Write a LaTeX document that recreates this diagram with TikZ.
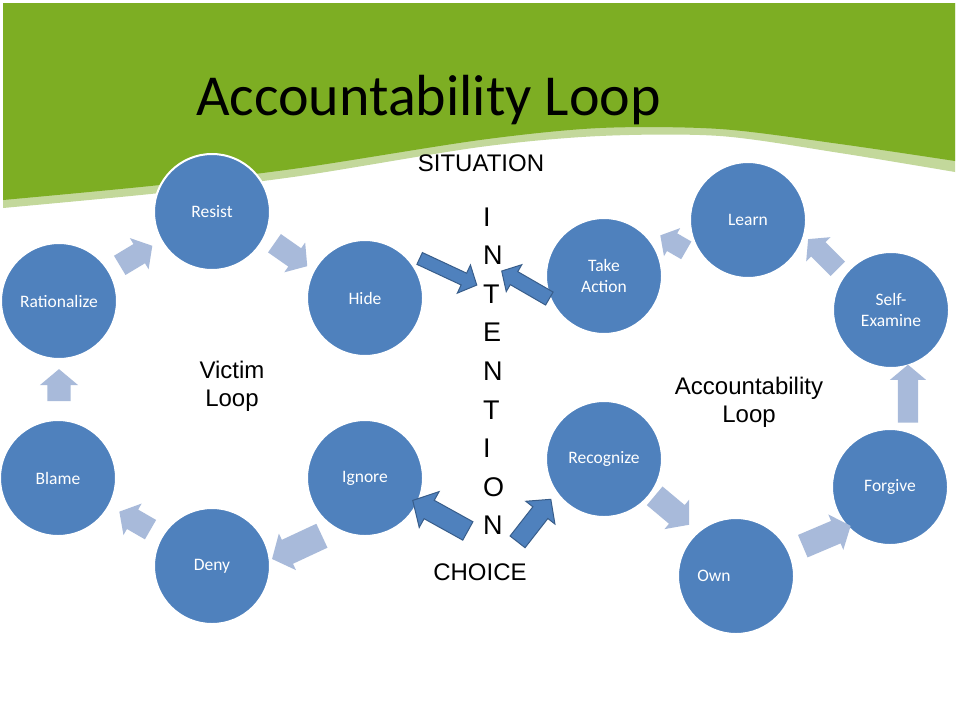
\documentclass[tikz,border=0pt]{standalone}
\usepackage{fontspec}
\setmainfont{Carlito}
\newfontfamily\arialf{Liberation Sans}
\usetikzlibrary{shapes.arrows}
\definecolor{hdrgreen}{RGB}{125,174,35}
\definecolor{bandgreen}{RGB}{195,216,155}
\definecolor{circblue}{RGB}{79,129,189}
\definecolor{lightarrow}{RGB}{168,186,218}
\definecolor{darkline}{RGB}{56,93,138}
\tikzset{
  circ/.style={circle, fill=circblue, draw=white, line width=2pt, minimum size=116pt, inner sep=0pt,
    text=white, align=center, font=\fontsize{17.5}{21}\selectfont},
  ctext/.style={text=white, inner sep=0pt, font=\fontsize{17.5}{21}\selectfont},
  lbl/.style={inner sep=0pt, align=center, font=\arialf\fontsize{24}{28}\selectfont},
  intl/.style={inner sep=0pt, anchor=base west, font=\arialf\fontsize{27}{30}\selectfont},
  larrow/.style n args={4}{single arrow, fill=lightarrow, draw=none, inner xsep=0pt,
    inner ysep={#3/2*1pt}, minimum height=#1pt, single arrow head extend={(#2-#3)/2*1pt},
    single arrow tip angle=100, rotate=#4},
  darrow/.style n args={4}{single arrow, fill=circblue, draw=darkline, line width=1pt, inner xsep=0pt,
    inner ysep={#3/2*1pt}, minimum height=#1pt, single arrow head extend={(#2-#3)/2*1pt},
    single arrow tip angle=95, rotate=#4},
}
\begin{document}
\begin{tikzpicture}[x=1pt,y=-1pt]
\useasboundingbox[fill=white] (0,0) rectangle (960,720);
% header
\fill[bandgreen] (3,3) -- plot[smooth] coordinates {(3,208) (160,193) (300,176) (480,147) (600,136) (720,136) (840,153) (955,172)} -- (955,3) -- cycle;
\fill[hdrgreen] (3,3) -- plot[smooth] coordinates {(3,200) (160,185) (300,168) (480,140) (600,128) (720,129) (840,144) (955,161)} -- (955,3) -- cycle;
\node[anchor=base west, inner sep=0pt, font=\fontsize{58}{60}\selectfont] (title) at (196,115) {Accountability Loop};

% victim loop circles
\node[circ] (resist) at (212,212) {Resist};
\node[circ] (rational) at (59,301) {Rationalize};
\node[circ] (hide) at (365,298) {Hide};
\node[circ] (blame) at (58,478) {Blame};
\node[circ] (deny) at (212,566) {Deny};
\node[circ] (ignore) at (365,478) {Ignore};
% accountability loop circles
\node[circ] (take) at (604,276) {Take\\Action};
\node[circ] (learn) at (748,220) {Learn};
\node[circ] (self) at (891,310) {Self-\\Examine};
\node[circ] (recog) at (604,459) {Recognize};
\node[circ] (own) at (736,576) {};
\node[ctext] (owntext) at ([xshift=-22pt]own.center) {Own};
\node[circ] (forgive) at (890,487) {Forgive};

% light cycle arrows
\node[larrow={32}{38}{23}{90}] (a1) at (59,390) {};
\node[larrow={36}{36}{22}{150}] (a2) at (139,523) {};
\node[larrow={55}{40}{26}{205}] (a3) at (302,545) {};
\node[larrow={38}{36}{22}{31}] (a4) at (132,258) {};
\node[larrow={40}{36}{22}{-35}] (a5) at (287,252) {};
\node[larrow={30}{32}{20}{150}] (a6) at (677,245) {};
\node[larrow={42}{34}{20}{135}] (a7) at (826,257) {};
\node[larrow={58}{36}{20}{90}] (a8) at (908,398) {};
\node[larrow={52}{38}{24}{23}] (a9) at (822,538) {};
\node[larrow={45}{38}{24}{-40}] (a10) at (668,507) {};

% dark arrows
\node[darrow={63}{30}{12}{-25}] (d1) at (445.5,270.5) {};
\node[darrow={55}{30}{14}{150}] (d2) at (528.5,286.5) {};
\node[darrow={63}{40}{20}{151}] (d3) at (444.5,518) {};
\node[darrow={54}{36}{18}{52}] (d4) at (531.5,524) {};

% labels
\node[lbl] (situation) at (481,163) {SITUATION};
\node[lbl] (choice) at (480,572) {CHOICE};
\node[lbl] (victim) at (232,386) {Victim\\Loop};
\node[lbl] (acct) at (749,402) {Accountability\\Loop};
\node[intl] (i1) at (483,226) {I};
\node[intl] (i2) at (483,264.6) {N};
\node[intl] (i3) at (483,303.2) {T};
\node[intl] (i4) at (483,341.8) {E};
\node[intl] (i5) at (483,380.4) {N};
\node[intl] (i6) at (483,419) {T};
\node[intl] (i7) at (483,457.6) {I};
\node[intl] (i8) at (483,496.2) {O};
\node[intl] (i9) at (483,534.8) {N};
\end{tikzpicture}
\end{document}
